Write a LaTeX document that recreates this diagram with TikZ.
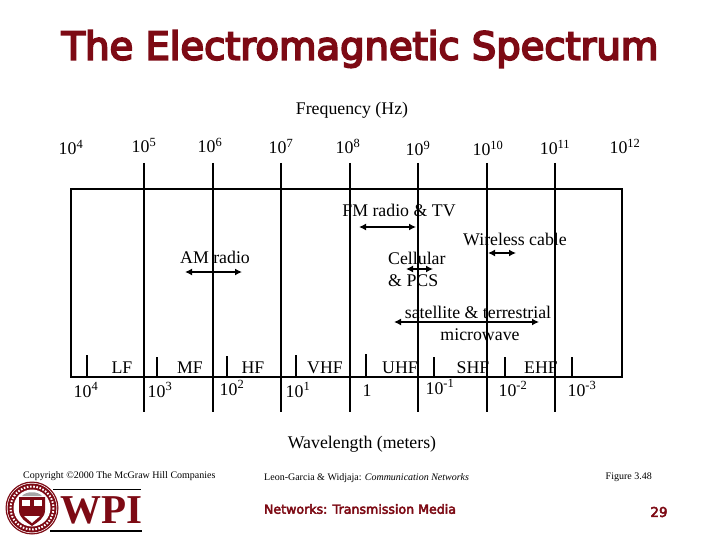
\documentclass[tikz,border=0pt]{standalone}
\usepackage{fontspec}
\setmainfont{Liberation Serif}
\newfontfamily\titlefont[FakeBold=5]{DejaVu Sans}
\newfontfamily\footfont[FakeBold=3.5]{DejaVu Sans}
\newfontfamily\wpifont{Liberation Serif}
\usetikzlibrary{arrows.meta}
\definecolor{maroon}{RGB}{125,10,20}
\tikzset{
 x=1pt,y=-1pt,
 axis/.style={line width=2pt,black},
 tickline/.style={line width=1.7pt,black},
 span/.style={line width=1.7pt,black,{Latex[length=7pt,width=7pt]}-{Latex[length=7pt,width=7pt]}},
 lab/.style={inner sep=0pt,font=\fontsize{17.8}{20}\selectfont,text height=12pt,text depth=4pt,yshift=-2pt},
 num/.style={inner sep=0pt,anchor=base,yshift=-6pt,font=\fontsize{17.8}{20}\selectfont},
 small/.style={inner sep=0pt,font=\fontsize{10}{12}\selectfont},
 ttl/.style={inner sep=0pt,font=\titlefont\fontsize{38.5}{44}\selectfont},
}
\newcommand{\pw}[1]{10\textsuperscript{#1}}
\begin{document}
\begin{tikzpicture}
\useasboundingbox (0,0) rectangle (720,540);
\fill[white] (0,0) rectangle (720,540);
% title
\node[ttl,text=maroon] (title) at (360,49) {The Electromagnetic Spectrum};
\node[lab] (freq) at (352,109) {Frequency (Hz)};
% frequencies
\foreach \n/\x/\y/\e in {f4/71/149/4,f5/144/147/5,f6/210/147/6,f7/281/148/7,f8/348/148/8,f9/418/150/9,f10/488/150/10,f11/555/149/11,f12/625/148/12}
  \node[num] (\n) at (\x,\y) {\pw{\e}};
% box
\draw[axis] (71,189) rectangle (622,377);
\foreach \x in {144,213,281,350,418,487,555}
  \draw[axis] (\x,163) -- (\x,412);
\foreach \x/\y in {87/355,157/357,227/356,296/355,366/354,434/357,505/357,572/357}
  \draw[tickline] (\x,\y) -- (\x,377);
% bands
\foreach \n/\x/\t in {lf/122/LF,mf/190/MF,hf/253/HF,vhf/325/VHF,uhf/400/UHF,shf/473/SHF,ehf/541/EHF}
  \node[lab] (\n) at (\x,367) {\t};
% wavelengths
\foreach \n/\x/\y/\t in {w4/86/391/\pw{4},w3/160/391/\pw{3},w2/232/389/\pw{2},w1/298/391/\pw{1},w0/367/390/1,wm1/440/388/\pw{-1},wm2/513/390/\pw{-2},wm3/582/390/\pw{-3}}
  \node[num] (\n) at (\x,\y) {\t};
% services
\node[lab] (fm) at (399,210) {FM radio \& TV};
\coordinate (fma) at (359,227); \coordinate (fmb) at (416,227);
\draw[span] (fma) -- (fmb);
\node[lab] (wc) at (515,239) {Wireless cable};
\coordinate (wca) at (488,253); \coordinate (wcb) at (516,253);
\draw[span] (wca) -- (wcb);
\node[lab] (am) at (215,257) {AM radio};
\coordinate (ama) at (185,272); \coordinate (amb) at (242,272);
\draw[span] (ama) -- (amb);
\node[lab,anchor=west] (cell) at (388,258) {Cellular};
\node[lab,anchor=west] (pcs) at (388,280) {\& PCS};
\coordinate (cea) at (406,269); \coordinate (ceb) at (433,269);
\draw[span] (cea) -- (ceb);
\node[lab] (sat) at (478,312) {satellite \& terrestrial};
\node[lab] (micro) at (480,334) {microwave};
\coordinate (saa) at (394,322); \coordinate (sab) at (539,322);
\draw[span] (saa) -- (sab);
\node[lab] (wl) at (362,442) {Wavelength (meters)};
% footer
\node[small,anchor=west] (copy) at (23,476) {Copyright \textcopyright 2000 The McGraw Hill Companies};
\node[small,anchor=west] (leon) at (264,478) {Leon-Garcia \& Widjaja: \textit{Communication Networks}};
\node[small,anchor=east] (fig) at (652,477) {Figure 3.48};
\node[inner sep=0pt,text=maroon,font=\footfont\fontsize{12.6}{14}\selectfont] (foot) at (360,509) {Networks: Transmission Media};
\node[inner sep=0pt,text=maroon,font=\footfont\fontsize{13.5}{14}\selectfont] (page) at (659,512) {29};
% logo
\fill[maroon] (32,508) circle (26.5);
\fill[white] (32,508) circle (25.2);
\fill[maroon] (32,508) circle (24.5);
\fill[white] (32,508) circle (18.5);
\draw[white,line width=2pt,dash pattern=on 1.6pt off 1.6pt] (32,508) circle (21.5);
\fill[black!35] (22,496) .. controls (26,491) and (38,491) .. (42,496) -- cycle;
\fill[maroon] (19,497) -- (45,497) -- (45,510) .. controls (45,518) and (38,522) .. (32,526) .. controls (26,522) and (19,518) .. (19,510) -- cycle;
\fill[white] (22,500) rectangle (30,506); \fill[white] (34,500) rectangle (42,506);
\fill[white] (24,516) -- (40,516) -- (32,523) -- cycle;
\draw[line width=1pt,black] (53,489) -- (141,489);
\draw[line width=1.6pt,black] (50,531) -- (142,531);
\node[inner sep=0pt,text=maroon,font=\wpifont\bfseries\fontsize{41}{41}\selectfont] (wpi) at (101,510) {WPI};
\end{tikzpicture}
\end{document}
